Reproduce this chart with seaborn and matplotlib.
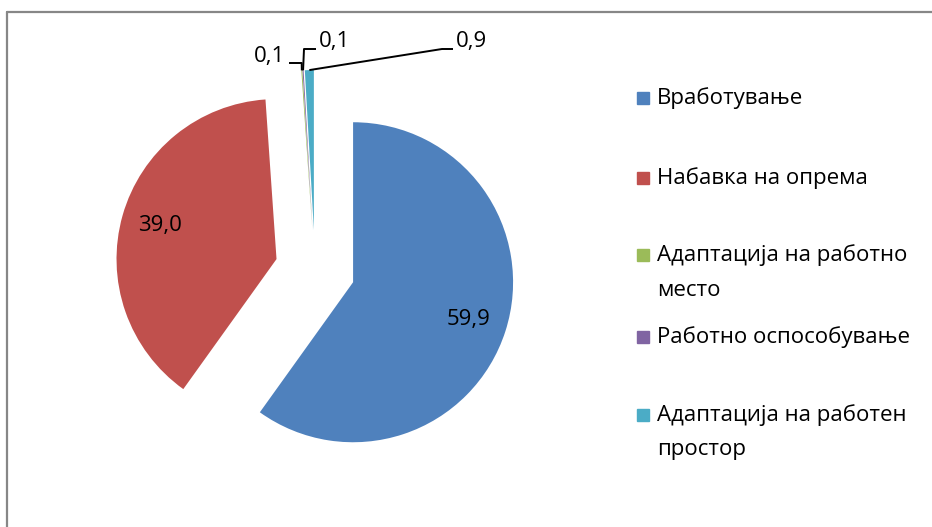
import matplotlib
matplotlib.use("Agg")
import matplotlib.pyplot as plt
import seaborn as sns
import numpy as np
from matplotlib.patches import Rectangle

# data
categories = ['Вработување', 'Набавка на опрема', 'Адаптација на работно\nместо',
              'Работно оспособување', 'Адаптација на работен\nпростор']
values = [59.9, 39.0, 0.1, 0.1, 0.9]
colors = ['#4F81BD', '#C0504D', '#9BBB59', '#8064A2', '#4BACC6']

sns.set_style('white')
plt.rcParams['font.family'] = ['Open Sans', 'DejaVu Sans']
plt.rcParams['text.color'] = 'black'
FS = 16

W, H = 932, 527
fig = plt.figure(figsize=(W / 100, H / 100), dpi=100)

# pie axes: centre at pixel (315, 270), radius 160 px
cx, cy, half = 315, 270, 220
ax = fig.add_axes([(cx - half) / W, (H - cy - half) / H, 2 * half / W, 2 * half / H])
wedges, texts, autotexts = ax.pie(
    values, colors=colors, startangle=90, counterclock=False,
    explode=[0.25] * len(values), radius=1,
    autopct=lambda p: f'{p:.1f}'.replace('.', ',') if p > 5 else '',
    pctdistance=0.76, textprops={'fontsize': FS, 'color': 'black'},
    wedgeprops={'linewidth': 0})
ax.set_xlim(-half / 160, half / 160)
ax.set_ylim(-half / 160, half / 160)
ax.set_aspect('equal')
ax.axis('off')


def px(x, y):
    return (x - cx) / 160, (cy - y) / 160


def tip(w):
    ang = np.deg2rad((w.theta1 + w.theta2) / 2)
    return w.center[0] + w.r * np.cos(ang), w.center[1] + w.r * np.sin(ang)


# leader lines for the tiny slices
small = [
    (2, [px(301.7, 63), px(289, 63)], px(285, 56), 'right'),
    (3, [px(304, 49), px(316, 49)], px(319, 42), 'left'),
    (4, [px(442, 49), px(453, 49)], px(456, 42), 'left'),
]
for i, pts, tpos, ha in small:
    x0, y0 = tip(wedges[i])
    xs = [x0] + [p[0] for p in pts]
    ys = [y0] + [p[1] for p in pts]
    ax.plot(xs, ys, color='black', lw=1.4, solid_capstyle='butt', clip_on=False)
    ax.text(tpos[0], tpos[1], f'{values[i]:.1f}'.replace('.', ','), ha=ha, va='center',
            fontsize=FS, color='black', clip_on=False)

# legend (Excel style, marker aligned to first line)
rows = [98, 178, 255, 337, 415]
for lab, col, y in zip(categories, colors, rows):
    fig.patches.append(Rectangle((637 / W, (H - y - 6) / H), 12 / W, 12 / H,
                                 transform=fig.transFigure, color=col))
    for k, line in enumerate(lab.split('\n')):
        fig.text(657 / W, (H - y - 35 * k) / H, line, ha='left', va='center',
                 fontsize=FS, color='black')

# chart border
fig.add_artist(plt.Line2D([7 / W, 7 / W], [0, (H - 12) / H], color='#878787', lw=1.6,
                          transform=fig.transFigure))
fig.add_artist(plt.Line2D([7 / W, 1], [(H - 12) / H, (H - 12) / H], color='#878787', lw=1.6,
                          transform=fig.transFigure))

fig.savefig('out.png', dpi=100)
